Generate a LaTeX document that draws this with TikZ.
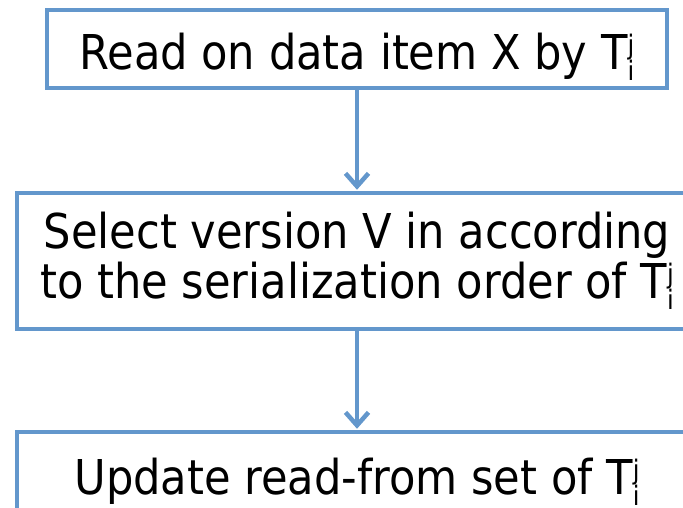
\documentclass[tikz,border=0pt]{standalone}
\usepackage{fontspec}
\usepackage{graphicx}
\setmainfont{DejaVu Sans Condensed}
\usetikzlibrary{arrows.meta}

\definecolor{boxblue}{RGB}{99,151,204}
% T with stacked upright indices i (below) and j (above)
\newcommand{\Tij}{T\rlap{\raisebox{15pt}{\scalebox{0.56}{j}}}\raisebox{-11pt}{\scalebox{0.56}{i}}}

\begin{document}
\begin{tikzpicture}[x=1pt, y=-1pt, shorten >=1pt,
               box_style/.style={rectangle,draw=boxblue,fill=white,line width=4.5pt,inner sep=0pt,align=center,font=\fontsize{48}{50}\selectfont},
               edge_style/.style={draw=boxblue,line width=4.5pt,-{Straight Barb[length=13pt,width=23pt]}}]
                \useasboundingbox (0,0) rectangle (683,507);
                \clip (0,0) rectangle (683,507);

                \node[box_style,minimum width=620,minimum height=78,text height=52pt,text depth=12pt] (read) at (357,49) {Read on data item X by \Tij};
                \node[box_style,minimum width=680,minimum height=136] (select) at (357,261) {Select version V in according\\to the serialization order of \Tij};
                \node[box_style,minimum width=680,minimum height=100] (update) at (357,482) {Update read-from set of \Tij};

                \draw[edge_style]  (read) edge (select);
                \draw[edge_style]  (select) edge (update);
            \end{tikzpicture}
\end{document}
